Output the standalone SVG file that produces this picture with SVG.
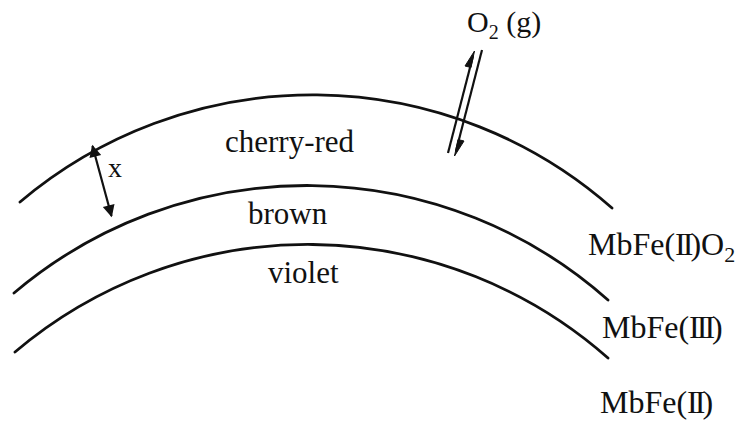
<svg xmlns="http://www.w3.org/2000/svg" width="738" height="426" viewBox="0 0 738 426">
<defs>
<style>
.arc{fill:none;stroke:#111;stroke-width:2.8;stroke-linecap:round}
.ln{fill:none;stroke:#111;stroke-width:2.2}
.hd{fill:#111;stroke:#111;stroke-width:1}
text{font-family:"Liberation Serif","Times New Roman",serif;fill:#111}
.lbl{font-size:30px}
.sp{font-size:32px}
.big{font-size:31px}
</style>
<marker id="ah" viewBox="0 0 10 10" refX="9" refY="5" markerWidth="7" markerHeight="5.5" markerUnits="strokeWidth" orient="auto-start-reverse">
<path d="M0,0 L10,5 L0,10 z" fill="#111"/>
</marker>
</defs>
<rect width="738" height="426" fill="#fff"/>
<g id="connectors">
<path id="arc-outer" class="arc" d="M20,202 A453,453 0 0 1 612,208"/>
<path id="arc-middle" class="arc" d="M14,293 A453,453 0 0 1 608,300"/>
<path id="arc-inner" class="arc" d="M15,352 A453,453 0 0 1 608,358"/>
<path id="thickness-x" class="ln" d="M92.5,146 L111.5,216" marker-start="url(#ah)" marker-end="url(#ah)"/>
<g id="o2-exchange">
<path class="ln" d="M448,153 L473,56"/>
<polygon class="hd" points="474.5,51 465,66 471,67.5"/>
<path class="ln" d="M482,50 L456,151"/>
<polygon class="hd" points="454.5,156 464,141 458,139.5"/>
</g>
</g>
<g id="label-x"><text x="108" y="177" style="font-size:28px">x</text></g>
<g id="layer-cherry-red"><text class="big" x="225" y="152">cherry-red</text></g>
<g id="layer-brown"><text class="big" x="248" y="224">brown</text></g>
<g id="layer-violet"><text class="big" x="268" y="283">violet</text></g>
<g id="o2-gas"><text class="lbl" x="467" y="32">O<tspan font-size="20" dy="7">2</tspan><tspan dy="-7"> (g)</tspan></text></g>
<g id="species-oxy"><text class="sp" x="588" y="255">MbFe(<tspan letter-spacing="-3">II</tspan>)O<tspan font-size="22" dy="7">2</tspan></text></g>
<g id="species-met"><text class="sp" x="602" y="338">MbFe(<tspan letter-spacing="-3">III</tspan>)</text></g>
<g id="species-deoxy"><text class="sp" x="600" y="413">MbFe(<tspan letter-spacing="-3">II</tspan>)</text></g>
</svg>
